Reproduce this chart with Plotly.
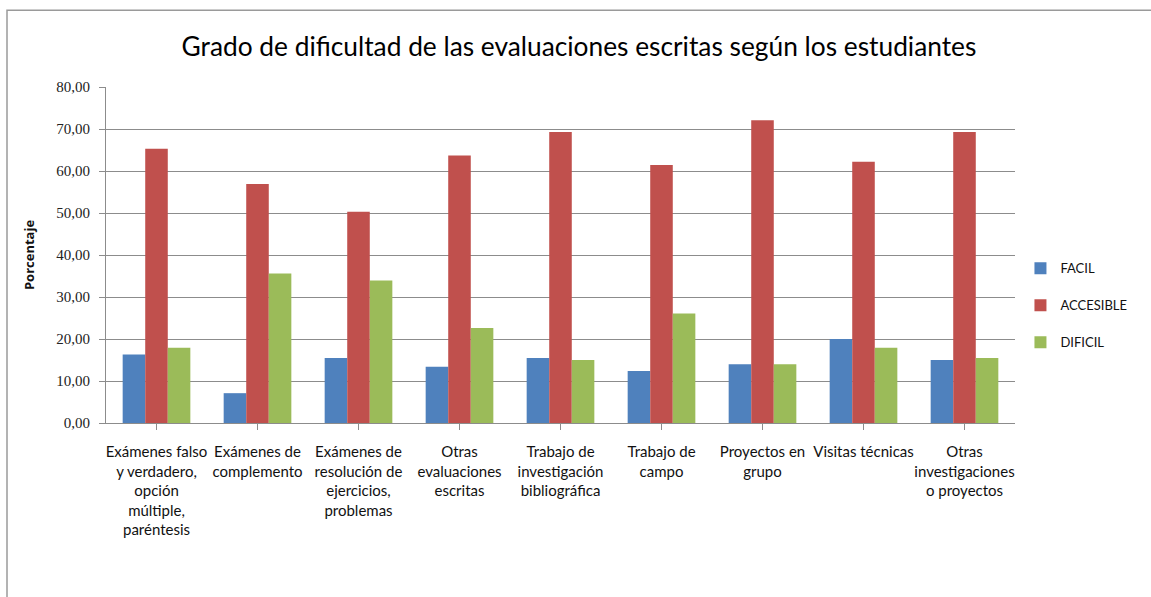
import plotly.graph_objects as go

# Categorías (etiquetas del eje X, con saltos de línea)
categorias = [
    "Exámenes falso<br>y verdadero,<br>opción<br>múltiple,<br>paréntesis",
    "Exámenes de<br>complemento",
    "Exámenes de<br>resolución de<br>ejercicios,<br>problemas",
    "Otras<br>evaluaciones<br>escritas",
    "Trabajo de<br>investigación<br>bibliográfica",
    "Trabajo de<br>campo",
    "Proyectos en<br>grupo",
    "Visitas técnicas",
    "Otras<br>investigaciones<br>o proyectos",
]

facil = [16.3, 7.1, 15.5, 13.4, 15.5, 12.4, 14.0, 20.0, 15.0]
accesible = [65.3, 56.9, 50.3, 63.7, 69.3, 61.4, 72.1, 62.2, 69.3]
dificil = [17.9, 35.6, 33.9, 22.6, 15.0, 26.1, 14.0, 17.9, 15.5]

y_ticks = [0, 10, 20, 30, 40, 50, 60, 70, 80]
y_tick_text = ["0,00", "10,00", "20,00", "30,00", "40,00", "50,00", "60,00", "70,00", "80,00"]

series = [
    ("FACIL", facil, "#4F81BD"),
    ("ACCESIBLE", accesible, "#C0504D"),
    ("DIFICIL", dificil, "#9BBB59"),
]

fig = go.Figure()
for nombre, valores, color in series:
    fig.add_trace(go.Bar(
        x=list(range(len(categorias))),
        y=valores,
        name=nombre,
        legendgroup=nombre,
        marker=dict(color=color, line=dict(width=0)),
    ))

GRID = "#8C8C8C"
fig.update_layout(
    width=1151,
    height=597,
    margin=dict(l=106, r=136, t=87, b=174),
    paper_bgcolor="white",
    plot_bgcolor="white",
    barmode="group",
    bargap=0.33,
    bargroupgap=0,
    title=dict(
        text="Grado de dificultad de las evaluaciones escritas según los estudiantes",
        x=0.503, xref="container", xanchor="center",
        y=1 - 47 / 597, yanchor="middle",
        font=dict(family="Lato", size=26.3, color="#000000"),
    ),
    font=dict(family="Lato", color="#111111"),
    showlegend=True,
    legend=dict(
        x=1.006, xanchor="left",
        y=0.35, yanchor="middle",
        font=dict(family="Lato", size=13, color="#111111"),
        tracegroupgap=17,
        itemwidth=30,
        bgcolor="rgba(0,0,0,0)",
    ),
    xaxis=dict(
        tickmode="array",
        tickvals=list(range(len(categorias))),
        ticktext=categorias,
        range=[-0.5, len(categorias) - 0.5],
        showgrid=False,
        showline=True, linecolor=GRID, linewidth=1,
        ticks="outside", ticklen=6, tickcolor=GRID,
        tickson="boundaries",
        tickangle=0,
        ticklabelstandoff=9,
        tickfont=dict(family="Lato", size=15, color="#111111"),
        fixedrange=True,
    ),
    yaxis=dict(
        range=[0, 80],
        tickmode="array",
        tickvals=y_ticks,
        ticktext=y_tick_text,
        showgrid=True, gridcolor=GRID, gridwidth=1,
        showline=True, linecolor=GRID, linewidth=1,
        ticks="outside", ticklen=6, tickcolor=GRID,
        ticklabelstandoff=6,
        tickfont=dict(family="Liberation Serif", size=15, color="#222222"),
        zeroline=False,
        title=dict(text="<b>Porcentaje</b>", standoff=18,
                   font=dict(family="Open Sans", size=13, color="#111111")),
        fixedrange=True,
    ),
    shapes=[
        # marco exterior del gráfico
        dict(type="rect", xref="paper", yref="paper",
             x0=(7 - 106) / 909, x1=1.4,
             y0=-0.7, y1=(423 - 10) / 336.3,
             line=dict(color="#9A9A9A", width=1.5), fillcolor="rgba(0,0,0,0)",
             layer="below"),
    ],
)

fig.write_html("out.html", config={"displayModeBar": False})
